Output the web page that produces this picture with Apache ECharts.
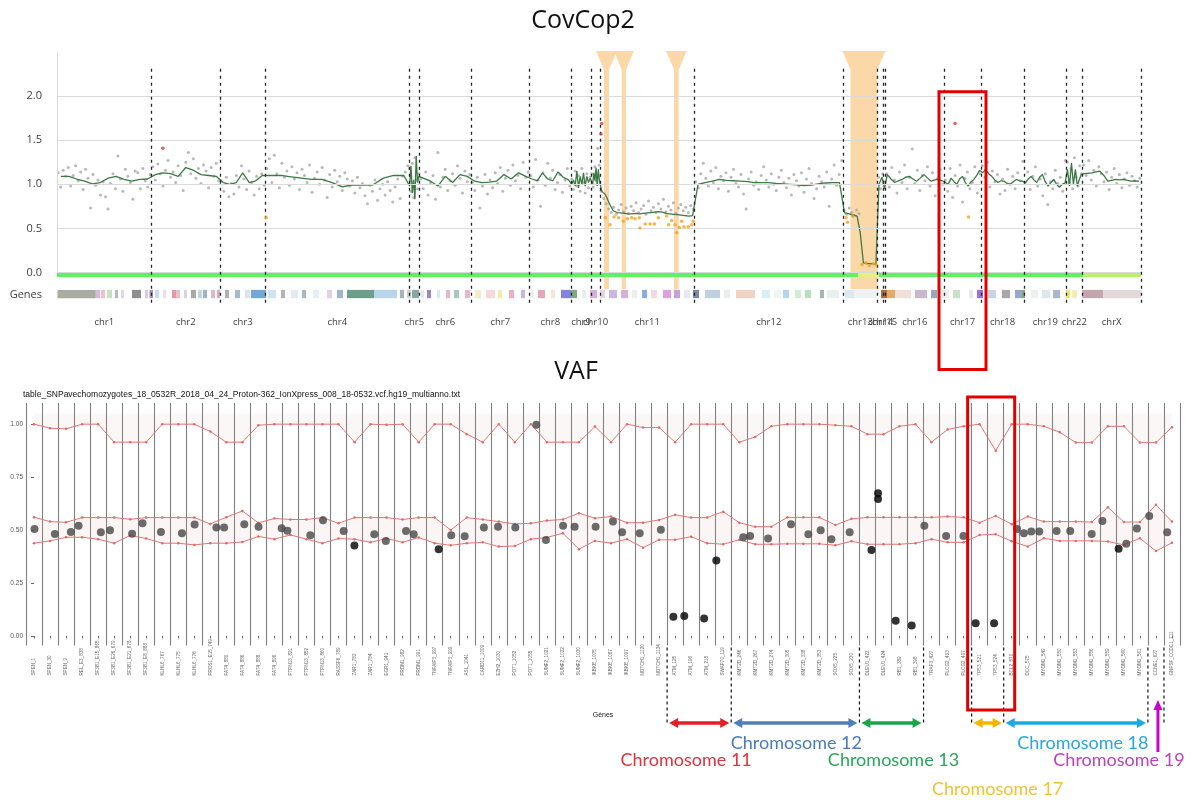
<!DOCTYPE html>
<html><head><meta charset="utf-8">
<script src="https://cdn.jsdelivr.net/npm/echarts@6/dist/echarts.min.js"></script>
<style>html,body{margin:0;padding:0;background:#fff}#c{width:1192px;height:800px}</style>
</head><body><div id="c"></div>
<script>
// ================= CovCop2 (top panel) =================
// x = position along the genome panel (amplicon position units), y = normalised coverage ratio
const chrNames  = ['chr1','chr2','chr3','chr4','chr5','chr6','chr7','chr8','chr9','chr10','chr11','chr12','chr13','chr14','chr15','chr16','chr17','chr18','chr19','chr22','chrX'];
const chrBounds = [0,94.5,163,208.5,352,362.5,414,472.5,514,534,543,637.5,786,820.5,826.5,828.5,887,924,967,1009.5,1025.3,1084];
const yTicksTop = [0,0.5,1,1.5,2];

// grey points: coverage ratio of each amplicon, listed per chromosome (null = drawn as a loss point)
const ratiosByChr = [
 [1.13,0.97,1.16,1.09,1.19,0.98,1.10,1.21,1.04,1.14,0.94,1.17,1.07,0.73,1.11,0.99,1.05,0.88,1.03,0.86,0.72,1.01,1.12,0.95,1.32,1.06,0.92,1.17,1.09,1.02,0.83,1.15,1.13,0.95,1.18,1.04,0.97,1.11],
 [1.20,1.05,1.23,1.12,0.98,1.16,1.27,1.08,1.14,1.02,1.21,1.10,0.93,1.25,1.36,1.12,1.29,1.07,1.18,1.01,1.22,1.15,0.96,1.19,1.09,1.24,1.04],
 [1.04,0.92,1.08,0.86,1.01,0.89,1.10,0.97,1.21,1.06,0.94,1.15,1.02,0.88,1.09,0.95,1.12,0.99],
 [1.18,1.29,1.02,1.33,1.12,0.96,1.24,1.08,1.15,0.99,1.20,1.06,1.13,0.94,1.17,1.10,1.02,1.22,0.91,1.07,1.14,1.00,1.19,1.05,0.85,1.11,0.97,1.16,1.03,1.09,0.93,1.13,1.06,0.98,1.04,0.90,1.08,0.96,1.01,0.87,0.78,0.99,0.92,1.05,0.82,0.95,1.00,0.88,1.03,0.93,0.80,0.97,1.06,0.84,1.09,1.14,1.21],
 [1.18,0.92,1.24,0.85,1.30,1.05,0.95,1.12],
 [1.06,0.95,1.14,0.88,1.02,1.10,0.83,1.36,0.97,1.08,1.17,0.93,1.04,1.12,0.99,1.21,1.07,0.90,1.15,1.03,1.11],
 [1.02,0.93,1.08,0.73,0.98,1.11,0.89,1.05,0.96,1.13,1.01,1.19,0.92,1.07,1.16,0.99,1.22,1.04,1.10,0.95,1.25,1.08,1.14],
 [1.10,0.97,1.28,1.05,0.75,1.13,0.99,1.24,1.07,1.16,0.94,1.02,1.11,0.91,1.05,1.18,0.98],
 [1.06,0.94,1.15,0.98,1.10,0.92,1.18,1.02,0.90,1.12,0.96,1.08],
 [1.12,0.97,1.20,1.04,1.41,1.22],
 [0.92,0.84,0.78,0.72,0.68,0.74,0.66,0.71,0.77,0.69,0.73,0.67,0.75,0.70,0.79,0.68,0.72,0.76,0.66,0.81,0.70,0.74,0.68,0.78,0.72,0.83,0.69,0.75,0.71,0.79,0.67,0.73,0.77,0.70,0.74,0.68,0.76,0.72],
 [1.03,0.96,1.12,1.24,1.07,0.98,1.15,1.02,1.19,0.95,1.09,1.04,1.13,0.92,1.08,1.17,1.01,0.97,1.11,0.89,0.72,1.06,1.14,0.99,1.03,0.94,1.10,1.20,1.05,0.97,1.12,1.00,0.93,1.08,1.16,1.02,0.96,1.07,0.88,1.11,1.04,0.98,1.13,0.91,1.06,1.18,1.01,0.84,0.95,1.09,1.03,0.97,1.14,0.75,1.06,1.22,0.99,1.11,1.27],
 [0.70,0.66,0.73,0.68,0.64,0.71,0.67,null,null,null,null,null,null,null],
 [1.08,0.95,1.12],
 [1.03],
 [1.12,0.97,1.19,1.05,0.90,1.14,1.02,1.22,0.95,1.08,1.40,1.01,1.16,0.93,1.10,1.04,1.20,0.98,1.13,0.87,1.07,1.17,1.00],
 [1.05,0.92,1.18,0.85,1.10,0.98,1.22,0.80,1.07,1.14,0.95,1.02,1.20,0.90,1.12],
 [1.21,1.08,1.25,0.97,1.15,1.03,1.11,0.89,1.06,0.93,1.17,1.00,1.09,0.95,1.13,1.04,1.26],
 [1.02,1.14,0.94,1.09,1.20,0.98,1.06,0.87,1.12,0.77,1.03,0.95,1.16,1.01,1.08,0.92,1.27],
 [1.25,1.02,1.18,0.95,1.30,1.08,0.98,1.21,1.12],
 [1.22,1.10,1.27,1.05,1.16,0.98,1.20,1.12,1.03,1.14,0.94,1.08,1.18,1.01,1.11,0.96,1.06,1.13,0.99,1.09,1.04,0.97,1.07]
];
// green smoothed ratio, per chromosome
const trendByChr = [
 [1.09,1.09,1.06,1.035,1.005,1.02,1.07,1.09,1.055,1.035,1.055,1.06],
 [1.11,1.13,1.12,1.09,1.19,1.16,1.11,1.10,1.09],
 [1.02,1.0,1.02,1.13,1.02,1.04,1.10],
 [1.10,1.10,1.085,1.07,1.055,1.055,1.02,0.97,0.995,0.99,0.995,1.07,1.10,1.10],
 [0.98,1.21,0.90,1.05,0.83,1.32,1.02,1.09],
 [1.07,1.035,0.98,1.09,1.02,1.11,1.09],
 [1.035,1.02,1.025,1.035,1.11,1.06,1.13,1.09],
 [1.06,1.04,1.13,1.06,1.04,1.14,1.08,1.05],
 [1.0,1.05,0.98,1.15,0.96,1.09,1.0,1.13,0.98,1.09,1.02,1.07],
 [1.09,1.0,1.13,1.04,1.19,0.98,1.17,1.04],
 [0.92,0.88,0.78,0.70,0.68,0.675,0.67,0.665,0.665,0.67,0.665,0.67,0.675,0.68,0.685,0.69,0.685,0.67,0.665,0.66,0.655,0.65,0.645,0.64,0.645],
 [1.0,1.02,1.035,1.055,1.045,1.04,1.035,1.03,1.02,1.02,1.02,1.01,1.005,1.0,0.995,0.986,0.99,1.005,1.015,1.02,1.02],
 [0.675,0.67,0.66,0.65,0.64,0.45,0.11,0.10,0.10,0.098,0.095],
 [1.0,1.08],
 [0.95],
 [1.11,1.06,1.02,1.04,1.055,1.08,1.09,1.06,1.035,1.07,1.11,1.07,1.035,1.05,1.055,1.04],
 [1.02,1.0,1.07,1.03,1.0,1.06,1.09,1.02,0.98,1.03,1.055,1.10,1.16],
 [1.13,1.17,1.12,1.09,1.05,1.02,1.04,1.035,1.01,1.0,1.03,1.055,1.04,1.035],
 [1.02,1.06,1.09,1.05,1.02,1.08,1.11,1.03,0.98,1.02,1.055,1.0,0.967,1.0,1.016],
 [1.17,0.98,1.24,1.0,1.17,0.98,1.055,1.11],
 [1.12,1.125,1.13,1.14,1.15,1.1,1.035,1.045,1.055,1.05,1.055,1.045,1.035,1.04,1.035]
];
// amplicons called as losses (orange) and gains (red): [position, ratio]
const lossPoints = [[209.3,0.62],[548.3,0.62],[553,0.54],[557,0.63],[561.7,0.62],[566.3,0.58],[570.3,0.61],[574.7,0.62],[578,0.61],[582.3,0.62],[583,0.505],[588.3,0.55],[593,0.55],[597.3,0.55],[601.3,0.62],[609.7,0.64],[611.7,0.54],[614.7,0.59],[618,0.54],[619.7,0.45],[622.3,0.51],[624.7,0.58],[627,0.52],[631.3,0.52],[634.7,0.54],[636.3,0.58],[789,0.62],[790.5,0.57],[795.4,0.64],[805,0.09],[809,0.11],[812.5,0.08],[816.5,0.10],[819,0.09],[911.5,0.63]];
const gainPoints = [[105.8,1.41],[544.7,1.69],[544,1.57],[898,1.69]];
// CNV loss regions highlighted: [start, end]
const lossRegions = [[547,552],[564.7,569],[617,621.7],[793.5,820.4]];
// coverage track segments: [start, end, colour]
const coverageTrack = [[0,801,'#5ef25e'],[801,822,'#e4f27c'],[822,1026,'#5ef25e'],[1026,1084,'#b9f06c']];
// gene track blocks: [start, end, colour]
const geneBlocks = [
 [0.5,38.8,'#a9aca2'],[39,43,'#d9b8dc'],[44,48,'#ebc3cb'],[50,55,'#c9dfc3'],[58,61,'#b7b7c9'],[64,67,'#e6d3e3'],
 [75,84,'#8e8e8e'],[88,91,'#dcc7e5'],[92.5,96,'#a890c0'],[98,102,'#c4def0'],[106,109,'#f0dede'],
 [115,119,'#e39aa6'],[119,123,'#ecc1c6'],[127,130,'#d6d6d6'],[134,139,'#a9a9a9'],[141,145,'#c0d4e4'],[146,150,'#9bb6cc'],
 [154,158,'#e7b4c2'],[160,163,'#d4a8c8'],[168,172,'#b0b0b0'],[178,183,'#a6b9cc'],[188,193,'#dde4ef'],
 [194,209,'#72a8d8'],[211,219,'#cfe3f1'],[224,228,'#b4b4b4'],[234,241,'#e3eaf2'],[245,249,'#a8b8c0'],[256,262,'#e8eef6'],[270,275,'#e0d0e8'],[280,286,'#9fb3d3'],
 [290,317,'#6d9e8b'],[317,340,'#b9d5ec'],[343,347,'#a9b1b9'],
 [350,354,'#c9d5c9'],[355,362,'#8aa6a0'],[364,367,'#e6e6f0'],[370,374,'#9a88b8'],[380,383,'#dbe7f2'],[389,393,'#e8b6c8'],[397,402,'#a9c9c0'],[408,413,'#eab6c8'],[418,424,'#f2ecc8'],[429,438,'#f3d8dc'],[441,445,'#f4eab0'],[452,457,'#e8b0c0'],[464,468,'#c8b8e0'],[473,477,'#eeeeee'],[481,488,'#e4a6bc'],[494,498,'#f0e8d0'],
 [504,514,'#8383e0'],[514,520,'#7fa884'],[525,529,'#e6eef0'],[533,540,'#d8b0d8'],
 [543,548,'#e6d4ea'],[552,560,'#c9b9de'],[564,571,'#d9b0d0'],[575,580,'#eeeeee'],[585,590,'#86aee0'],[594,600,'#f0dbe4'],[606,614,'#e0a0e0'],[617,623,'#c8a0d8'],[627,633,'#e8e8f0'],[636,642,'#7a8aa0'],[648,663,'#c0d0e0'],[667,673,'#e8eef0'],[679,698,'#f1d3c3'],[705,713,'#d8eff4'],[717,724,'#eef4f0'],[726,732,'#b8d4ec'],[738,744,'#d4ecd4'],[748,754,'#b8e0c0'],[763,767,'#a8b8a8'],[770,782,'#eaf0f0'],[788,797,'#dde8ee'],[797,820,'#eef2f2'],
 [824,830,'#b06a40'],[830,838,'#e8a866'],[838,854,'#f2e0d8'],[858,870,'#c8b8d0'],[874,880,'#98a8c0'],[885,892,'#eeeeee'],[896,903,'#c8e0c8'],[912,916,'#e8e8e8'],[920,926,'#a070d8'],[931,939,'#c8d4e4'],[945,953,'#a8a8a8'],[958,965,'#98a8c8'],[965,968,'#80a880'],[974,981,'#eef0f0'],[985,993,'#dde6ee'],[996,1003,'#a8b8cc'],[1009,1013,'#f2e070'],[1015,1020,'#f6eeb0'],
 [1025.3,1046.4,'#c6a6ae'],[1046.4,1084,'#e3d9d9']
];

// ================= VAF (bottom panel) =================
const vafGenes = ['SPEN_1','SPEN_30','SPEN_9','REL_E3_838','SF3B1_E15_865','SF3B1_E26_679','SF3B1_E21_678','SF3B1_E8_888','KLHL6_767','KLHL6_775','KLHL6_776','PROS1_E15_749',
 'FAT4_880','FAT4_886','FAT4_888','FAT4_896','PTPN13_821','PTPN13_852','PTPN13_860','RASSF6_789','ZAR1_782','ZAR1_784','EGR1_941','PRDM1_982','PRDM1_991','TNFAIP3_997','TNFAIP3_999',
 'ASL_1041','CARD11_1009','EZH2_1030','POT1_1052','POT1_1055','SUMF2_1021','SUMF2_1022','SUMF2_1030','IKBKB_1075','IKBKB_1087','IKBKB_1097','NOTCH1_1120','NOTCH1_1134',
 'ATM_125','ATM_196','ATM_218','SWAP70_119','KMT2D_246','KMT2D_267','KMT2D_274','KMT2D_305','KMT2D_338','KMT2D_353','SOX5_225','SOX5_230',
 'DLEU1_422','DLEU1_424','RB1_389','RB1_398','TRAF3_427','PLCG2_493','PLCG2_497','TP53_521','TP53_524','BCL2_570','DCC_575',
 'MYOM1_549','MYOM1_550','MYOM1_553','MYOM1_556','MYOM1_559','MYOM1_560','MYOM1_561','CCNE1_627','GNPSF_CCDC1_711'];
const vafTop = [1.00,0.981,0.978,1.00,1.00,0.915,0.915,0.915,1.00,1.00,1.00,0.965,0.915,0.915,0.995,1.00,1.00,1.00,1.00,1.00,0.915,1.00,0.997,1.00,0.915,1.00,1.00,0.953,0.915,1.00,0.915,1.00,0.915,0.915,0.915,0.989,
 0.915,1.00,0.984,0.984,0.915,1.00,1.00,1.00,0.915,0.94,0.99,1.00,1.00,1.00,0.995,0.99,0.953,0.953,0.99,1.00,0.915,0.975,0.99,1.00,0.875,1.00,1.00,0.99,0.962,0.913,0.913,0.99,0.99,0.913,0.913,0.986];
const vafUpper = [0.561,0.540,0.537,0.559,0.559,0.559,0.551,0.559,0.559,0.559,0.559,0.529,0.561,0.590,0.534,0.555,0.550,0.550,0.559,0.532,0.559,0.559,0.559,0.550,0.559,0.559,0.500,0.559,0.550,0.540,0.529,0.532,0.545,0.550,0.580,0.556,
 0.564,0.535,0.535,0.548,0.572,0.559,0.559,0.587,0.535,0.516,0.516,0.560,0.560,0.560,0.524,0.553,0.560,0.560,0.560,0.560,0.560,0.564,0.560,0.535,0.567,0.528,0.564,0.540,0.540,0.540,0.538,0.608,0.538,0.538,0.619,0.540];
const vafLower = [0.438,0.449,0.466,0.466,0.457,0.438,0.474,0.460,0.438,0.438,0.430,0.438,0.438,0.444,0.470,0.457,0.477,0.457,0.438,0.460,0.457,0.442,0.460,0.442,0.465,0.438,0.428,0.438,0.442,0.422,0.425,0.457,0.465,0.485,0.410,0.449,
 0.438,0.457,0.417,0.454,0.454,0.469,0.438,0.433,0.454,0.433,0.433,0.435,0.435,0.435,0.428,0.447,0.433,0.433,0.433,0.438,0.457,0.442,0.442,0.477,0.480,0.447,0.422,0.461,0.449,0.449,0.449,0.446,0.430,0.461,0.401,0.440];
const vafTopCap = 1.05;
// observed variant allele frequencies: [gene position (jittered), VAF]
const vafPoints = [[0.03,0.505],[1.30,0.482],[2.30,0.491],[2.78,0.52],[4.17,0.49],[4.74,0.499],[6.12,0.483],[6.77,0.532],[7.92,0.491],[9.23,0.485],[10.02,0.526],[11.38,0.512],[11.86,0.512],[13.12,0.528],[14.01,0.516],[15.45,0.509],[15.81,0.497],[17.24,0.476],[18.03,0.546],[19.32,0.496],[19.99,0.427],[21.23,0.48],[21.95,0.449],[23.21,0.496],[23.69,0.48],[25.25,0.41],[26.03,0.476],[26.87,0.471],[28.07,0.512],[28.95,0.516],[30.03,0.512],[31.34,0.997],[31.94,0.453],[33.01,0.52],[33.73,0.516],[35.04,0.516],[36.12,0.54],[36.69,0.49],[37.79,0.485],[39.11,0.501],[39.89,0.091],[40.57,0.094],[41.81,0.082],[42.57,0.356],[44.25,0.466],[44.68,0.472],[45.8,0.46],[47.23,0.528],[48.31,0.48],[49.08,0.499],[49.75,0.457],[50.89,0.49],[52.25,0.406],[52.66,0.674],[52.66,0.647],[53.76,0.072],[54.76,0.05],[55.55,0.52],[56.91,0.472],[57.99,0.472],[58.75,0.06],[59.9,0.06],[61.33,0.505],[61.76,0.485],[62.22,0.493],[62.72,0.493],[63.8,0.496],[64.65,0.496],[65.99,0.482],[66.66,0.543],[67.67,0.412],[68.15,0.435],[68.81,0.507],[69.58,0.567],[70.70,0.49]];
const vafYTicks = [0,0.25,0.5,0.75,1];
// chromosome groups annotated under the VAF panel: [label, first gene index, last gene index]
const chrGroups = [['Chromosome 11',40,43],['Chromosome 12',44,51],['Chromosome 13',52,55],['Chromosome 17',59,60],['Chromosome 18',61,69],['Chromosome 19',70,70]];
const highlightChr = 'chr17';

// ---------------- styles ----------------
const groupStyle = {
 'Chromosome 11':{arrow:'#e31e24',text:'#d8353e',row:760,dx:-13},
 'Chromosome 12':{arrow:'#4f7fbd',text:'#4a7bb8',row:743,dx:1},
 'Chromosome 13':{arrow:'#19a64b',text:'#2ca45c',row:760,dx:2},
 'Chromosome 17':{arrow:'#f6b400',text:'#f0c330',row:789,dx:10},
 'Chromosome 18':{arrow:'#1aa9e1',text:'#2aa6dc',row:743,dx:7},
 'Chromosome 19':{arrow:'#cc00cc',text:'#bb44bb',row:760,dx:-37}
};

const chart = echarts.init(document.getElementById('c'), null, {renderer:'canvas'});
const chrMids = chrNames.map((n,i)=>(chrBounds[i]+chrBounds[i+1])/2);
function chrAt(v){let b=0,d=1e9;chrMids.forEach((m,i)=>{if(Math.abs(m-v)<d){d=Math.abs(m-v);b=i;}});return chrNames[b];}
function spread(ci, vals){const s=chrBounds[ci],e=chrBounds[ci+1],n=vals.length;return vals.map((v,k)=>[s+(k+0.5)*(e-s)/n,v]).filter(p=>p[1]!==null);}
const greyData = ratiosByChr.flatMap((v,ci)=>spread(ci,v));
const trendData = trendByChr.flatMap((v,ci)=>spread(ci,v));

function bandRenderer(y0, y1, list){
  return function(params, api){
    const s=api.value(0), e=api.value(1);
    const a=api.coord([s,y0]), b=api.coord([e,y1]);
    return {type:'rect', shape:{x:a[0], y:b[1], width:b[0]-a[0], height:a[1]-b[1]}, style:{fill:list[params.dataIndex][2]}};
  };
}
const FLARE = 8;
function lossRenderer(params, api){
  const s=api.value(0), e=api.value(1);
  const xs=api.coord([s,0])[0], xe=api.coord([e,0])[0];
  const yt=api.coord([s,2.51])[1], yn=api.coord([s,2.30])[1], yb=api.coord([s,-0.19])[1];
  return {type:'polygon', shape:{points:[[xs-FLARE,yt],[xe+FLARE,yt],[xe,yn],[xe,yb],[xs,yb],[xs,yn]]}, style:{fill:'#fbd8a8'}};
}
function ptColor(p){
  const v=p.data[1], i=Math.max(0,Math.min(71,Math.round(p.data[0])));
  if (v < vafLower[i]-0.012 || (v > vafUpper[i]+0.012 && v < vafTop[i]-0.03)) return '#000000';
  return '#474747';
}
const noLine = {opacity:0};
const option = {
  animation:false,
  grid:[{left:57, top:52, width:1084, height:264.6, outerBoundsMode:'none', containLabel:false},
        {left:26, top:403, width:1154, height:242.5, outerBoundsMode:'none', containLabel:false}],
  xAxis:[
    {gridIndex:0, type:'value', min:0, max:1084, axisLine:{show:false}, axisTick:{show:false}, splitLine:{show:false},
     axisLabel:{customValues:chrMids, formatter:v=>chrAt(v), margin:1, fontSize:9.5, color:'#404040', fontFamily:'Open Sans', hideOverlap:false}},
    {gridIndex:1, type:'category', data:vafGenes, boundaryGap:true, axisLine:{show:false},
     axisTick:{show:true, alignWithLabel:true, interval:0, length:2.5, lineStyle:{color:'#666'}},
     splitLine:{show:true, interval:0, showMinLine:true, showMaxLine:true, lineStyle:{color:'#808080', width:1.1}},
     axisLabel:{interval:0, rotate:90, align:'left', verticalAlign:'middle', margin:30, fontSize:4.6, color:'#666', fontFamily:'Liberation Sans', hideOverlap:false},
     name:'Gènes', nameLocation:'middle', nameGap:66, nameTextStyle:{fontSize:7, color:'#222', fontFamily:'Liberation Sans'}},
    {gridIndex:1, type:'value', min:-0.5, max:71.5, show:false}
  ],
  yAxis:[
    {gridIndex:0, type:'value', min:-0.5, max:2.5, axisLine:{show:false}, axisTick:{show:false}, splitLine:{show:false},
     axisLabel:{customValues:yTicksTop.concat([-0.25]), formatter:v=>v<0?'Genes':v.toFixed(1), margin:15, fontSize:11, color:'#404040', fontFamily:'Open Sans'}},
    {gridIndex:1, type:'value', min:-0.045, max:1.1, axisLine:{show:false}, splitLine:{show:false},
     axisTick:{show:true, customValues:vafYTicks, length:3, lineStyle:{color:'#666'}},
     axisLabel:{customValues:vafYTicks, formatter:v=>v.toFixed(2), fontSize:6.5, color:'#555', margin:3, fontFamily:'Liberation Sans'},
     name:'Fréquence allélique', nameLocation:'middle', nameRotate:90, nameGap:15, nameTextStyle:{fontSize:7.5, color:'#222', fontFamily:'Liberation Sans'}}
  ],
  series:[
    {type:'line', xAxisIndex:0, yAxisIndex:0, data:[], z:0, silent:true,
     markLine:{silent:true, symbol:['none','none'], label:{show:false}, lineStyle:{color:'#dadada', width:1, type:'solid'},
       data: yTicksTop.map(v=>({yAxis:v})).concat([[{coord:[0,0]},{coord:[0,2.5]}]])}},
    {type:'custom', xAxisIndex:0, yAxisIndex:0, z:1, silent:true, clip:false, data:lossRegions, renderItem:lossRenderer},
    {type:'custom', xAxisIndex:0, yAxisIndex:0, z:2, silent:true, clip:false, data:coverageTrack.map(b=>[b[0],b[1]]), renderItem:bandRenderer(-0.05,0,coverageTrack)},
    {type:'custom', xAxisIndex:0, yAxisIndex:0, z:2, silent:true, clip:false, data:geneBlocks.map(b=>[b[0],b[1]]), renderItem:bandRenderer(-0.291,-0.197,geneBlocks)},
    {type:'scatter', xAxisIndex:0, yAxisIndex:0, z:3, data:greyData, symbolSize:3, itemStyle:{color:'#a6a6a6'}, silent:true,
     markLine:{silent:true, symbol:['none','none'], label:{show:false}, lineStyle:{color:'#222', width:1.3, type:[3,4]},
       data: chrBounds.slice(1).map(b=>[{coord:[b,2.31]},{coord:[b,-0.37]}])}},
    {type:'line', xAxisIndex:0, yAxisIndex:0, z:4, data:trendData, symbol:'none', lineStyle:{color:'#3b7a45', width:1.3}, silent:true},
    {type:'scatter', xAxisIndex:0, yAxisIndex:0, z:5, data:lossPoints, symbolSize:3.5, itemStyle:{color:'#f2a31f'}, silent:true},
    {type:'scatter', xAxisIndex:0, yAxisIndex:0, z:5, data:gainPoints, symbolSize:3.5, itemStyle:{color:'#d23a30'}, silent:true},
    // VAF panel
    {type:'line', xAxisIndex:1, yAxisIndex:1, stack:'mid', data:vafLower, symbol:'none', lineStyle:noLine, silent:true, z:1},
    {type:'line', xAxisIndex:1, yAxisIndex:1, stack:'mid', data:vafUpper.map((u,i)=>u-vafLower[i]), symbol:'none', lineStyle:noLine, areaStyle:{color:'rgba(225,150,150,0.14)'}, silent:true, z:1},
    {type:'line', xAxisIndex:1, yAxisIndex:1, stack:'top', data:vafTop, symbol:'none', lineStyle:noLine, silent:true, z:1},
    {type:'line', xAxisIndex:1, yAxisIndex:1, stack:'top', data:vafTop.map(t=>vafTopCap-t), symbol:'none', lineStyle:noLine, areaStyle:{color:'rgba(200,150,150,0.11)'}, silent:true, z:1},
    {type:'line', xAxisIndex:1, yAxisIndex:1, data:vafUpper, symbol:'circle', symbolSize:2.5, itemStyle:{color:'#e06868'}, lineStyle:{color:'#e06868', width:0.9}, silent:true, z:3},
    {type:'line', xAxisIndex:1, yAxisIndex:1, data:vafLower, symbol:'circle', symbolSize:2.5, itemStyle:{color:'#e06868'}, lineStyle:{color:'#e06868', width:0.9}, silent:true, z:3},
    {type:'line', xAxisIndex:1, yAxisIndex:1, data:vafTop, symbol:'circle', symbolSize:2.5, itemStyle:{color:'#e06868'}, lineStyle:{color:'#e06868', width:0.9}, silent:true, z:3},
    {type:'scatter', xAxisIndex:2, yAxisIndex:1, data:vafPoints, symbolSize:8, itemStyle:{color:ptColor}, silent:true, z:5}
  ]
};
chart.setOption(option);

// ---------------- annotations (positions from the chart's own scales) ----------------
const g = [];
g.push({type:'text', x:583, y:21, style:{text:'CovCop2', font:'25px "Open Sans"', fill:'#111', align:'center', verticalAlign:'middle'}});
g.push({type:'text', x:576, y:372, style:{text:'VAF', font:'25px "Open Sans"', fill:'#111', align:'center', verticalAlign:'middle'}});
g.push({type:'text', x:23, y:395, style:{text:'table_SNPavechomozygotes_18_0532R_2018_04_24_Proton-362_IonXpress_008_18-0532.vcf.hg19_multianno.txt', font:'8.5px "Liberation Sans"', fill:'#111', align:'left', verticalAlign:'middle'}});
const px = v => chart.convertToPixel({xAxisIndex:2}, v);
const vafBottom = chart.convertToPixel({yAxisIndex:1}, -0.045);
const vafTopPx = chart.convertToPixel({yAxisIndex:1}, 1.1);
const bset = new Set();
chrGroups.forEach(([n,a,b])=>{bset.add(a-0.5); bset.add(b+0.5);});
[...bset].forEach(b=>{
  const x = px(b);
  g.push({type:'line', shape:{x1:x, y1:vafBottom+2, x2:x, y2:724}, style:{stroke:'#111', lineWidth:1.2, lineDash:[3,3]}, z:10});
});
const AY = 723, HL = 9, HW = 5;
chrGroups.forEach(([name,a,b])=>{
  const st = groupStyle[name];
  const x0 = px(a-0.5), x1 = px(b+0.5), cx = (x0+x1)/2;
  if (a !== b) {
    const l = x0+2, r = x1-2;
    g.push({type:'line', shape:{x1:l+HL-1, y1:AY, x2:r-HL+1, y2:AY}, style:{stroke:st.arrow, lineWidth:3.5}, z:10});
    g.push({type:'polygon', shape:{points:[[l,AY],[l+HL,AY-HW],[l+HL,AY+HW]]}, style:{fill:st.arrow}, z:10});
    g.push({type:'polygon', shape:{points:[[r,AY],[r-HL,AY-HW],[r-HL,AY+HW]]}, style:{fill:st.arrow}, z:10});
  } else {
    const xc = px(a)+2;
    g.push({type:'line', shape:{x1:xc, y1:752, x2:xc, y2:709}, style:{stroke:st.arrow, lineWidth:3}, z:10});
    g.push({type:'polygon', shape:{points:[[xc,700],[xc-4.5,710],[xc+4.5,710]]}, style:{fill:st.arrow}, z:10});
  }
  g.push({type:'text', x:cx+st.dx, y:st.row, style:{text:name, font:'18px Lato', fill:st.text, align:'center', verticalAlign:'middle'}, z:10});
});
// highlight boxes around chromosome 17
const ci = chrNames.indexOf(highlightChr);
const tx0 = chart.convertToPixel({xAxisIndex:0}, chrBounds[ci]) - 5;
const tx1 = chart.convertToPixel({xAxisIndex:0}, chrBounds[ci+1]) + 5;
const ty0 = chart.convertToPixel({yAxisIndex:0}, 2.05);
const ty1 = chart.convertToPixel({yAxisIndex:0}, -0.5) + 53;
g.push({type:'rect', shape:{x:tx0, y:ty0, width:tx1-tx0, height:ty1-ty0}, style:{fill:'none', stroke:'#e10000', lineWidth:3}, z:20});
const g17 = chrGroups.find(c=>c[0]==='Chromosome 17');
const vx0 = px(g17[1]-0.5) - 4, vx1 = px(g17[2]+0.5) + 11;
g.push({type:'rect', shape:{x:vx0, y:vafTopPx-6, width:vx1-vx0, height:710-(vafTopPx-6)}, style:{fill:'none', stroke:'#e10000', lineWidth:3}, z:20});
chart.setOption({graphic:g});
</script></body></html>
